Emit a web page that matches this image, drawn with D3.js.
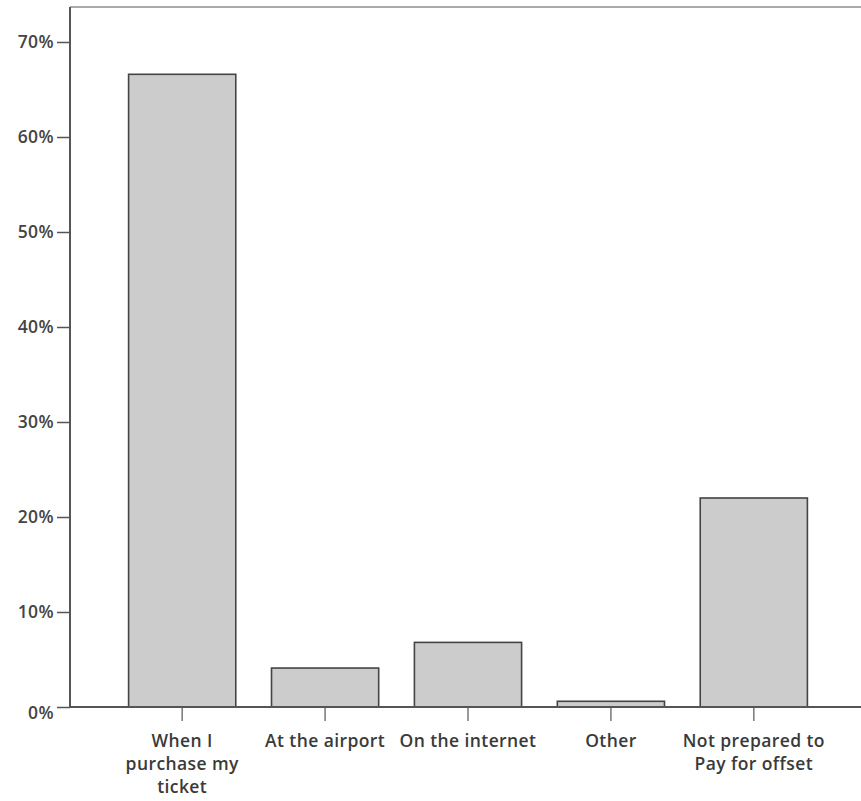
<!DOCTYPE html>
<html>
<head>
<meta charset="utf-8">
<script src="https://cdn.jsdelivr.net/npm/d3@7"></script>
<style>
  body { margin: 0; background: #fff; }
  svg { display: block; }
  text { font-family: "Open Sans", Lato, sans-serif; }
</style>
</head>
<body>
<svg id="chart" width="861" height="801"></svg>
<script>
const categories = [
  ["When I", "purchase my", "ticket"],
  ["At the airport"],
  ["On the internet"],
  ["Other"],
  ["Not prepared to", "Pay for offset"]
];
const values = [0.666, 0.041, 0.068, 0.006, 0.22];
const yTicks = [0, 0.1, 0.2, 0.3, 0.4, 0.5, 0.6, 0.7];

const svg = d3.select("#chart");
const x0 = 70, yTop = 7, yBase = 707, W = 861;

const x = d3.scaleBand()
  .domain(d3.range(categories.length))
  .range([x0, 866])
  .paddingInner(0.25)
  .paddingOuter(0.41);

const y = d3.scaleLinear().domain([0, 0.7]).range([yBase, 42]);

// top border
svg.append("line")
  .attr("x1", x0).attr("x2", W).attr("y1", yTop).attr("y2", yTop)
  .attr("stroke", "#aaa").attr("stroke-width", 2);

// bars
svg.selectAll("rect.bar")
  .data(values)
  .join("rect")
  .attr("class", "bar")
  .attr("x", (d, i) => x(i))
  .attr("width", x.bandwidth())
  .attr("y", d => y(d))
  .attr("height", d => y(0) - y(d))
  .attr("fill", "#cccccc")
  .attr("stroke", "#444")
  .attr("stroke-width", 1.6);

// y axis
const yAxis = d3.axisLeft(y)
  .tickValues(yTicks)
  .tickFormat(d3.format(".0%"))
  .tickSize(13)
  .tickPadding(3);
const gy = svg.append("g").attr("transform", `translate(${x0},0)`).call(yAxis);
gy.select(".domain").remove();
gy.selectAll(".tick line").attr("stroke", "#555").attr("stroke-width", 1.5);
gy.selectAll(".tick text").attr("fill", "#444").attr("font-size", 17.5)
  .attr("font-weight", 600).attr("letter-spacing", "0.4px")
  .attr("dy", (d) => d === 0 ? "0.65em" : "0.32em");
svg.append("line")
  .attr("x1", x0).attr("x2", x0).attr("y1", yTop).attr("y2", yBase)
  .attr("stroke", "#555").attr("stroke-width", 2);

// x axis
const xAxis = d3.axisBottom(x).tickSize(14).tickFormat("");
const gx = svg.append("g").attr("transform", `translate(0,${yBase})`).call(xAxis);
gx.select(".domain").remove();
gx.selectAll(".tick line").attr("stroke", "#777").attr("stroke-width", 1.5);
gx.selectAll(".tick").each(function(d) {
  const t = d3.select(this).append("text")
    .attr("fill", "#3a3a3a").attr("font-size", 17.5)
    .attr("font-weight", 600).attr("letter-spacing", "0.4px")
    .attr("text-anchor", "middle");
  categories[d].forEach((line, k) => {
    t.append("tspan").attr("x", 0).attr("y", 40 + k * 23).text(line);
  });
});
svg.append("line")
  .attr("x1", x0).attr("x2", W).attr("y1", yBase).attr("y2", yBase)
  .attr("stroke", "#555").attr("stroke-width", 2);
</script>
</body>
</html>
